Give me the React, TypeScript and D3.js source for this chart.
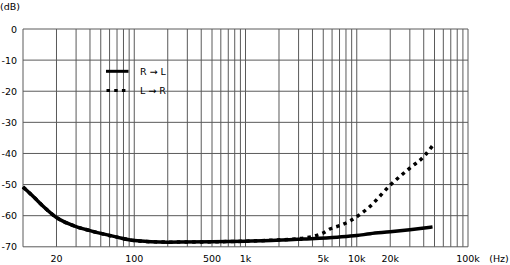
import React from "react";
import * as d3 from "d3";

const W = 510;
const H = 265;

const yTicks = [0, -10, -20, -30, -40, -50, -60, -70];
const xLabelTicks = [20, 100, 500, 1000, 5000, 10000, 20000, 100000];
const xLabelText = ["20", "100", "500", "1k", "5k", "10k", "20k", "100k"];

const freqRL = [10, 12.5, 15, 20, 30, 40, 50, 70, 100, 200, 500, 1000, 1700, 3340, 6700, 10000, 13200, 20000, 30000, 48000];
const dbRL = [-50.8, -54.0, -56.8, -60.6, -63.5, -64.8, -65.7, -66.9, -68.0, -68.5, -68.4, -68.2, -68.0, -67.5, -66.9, -66.4, -65.8, -65.2, -64.5, -63.6];

const freqLR = [10, 12.5, 15, 20, 30, 40, 50, 70, 100, 200, 500, 1000, 1700, 2500, 3340, 4110, 4890, 5810, 7150, 8790, 10800, 12800, 20100, 30000, 40000, 48000];
const dbLR = [-50.8, -54.0, -56.8, -60.6, -63.5, -64.8, -65.7, -66.9, -68.0, -68.5, -68.4, -68.2, -67.9, -67.6, -67.2, -66.6, -65.7, -64.2, -63.1, -61.6, -59.5, -57.4, -50.1, -44.7, -41.0, -37.5];

const legendLabels = ["R \u2192 L", "L \u2192 R"];

export default function App() {
  const x = d3.scaleLog().domain([10, 100000]).range([23, 468]);
  const y = d3.scaleLinear().domain([-70, 0]).range([246.8, 29]);

  const gridFreqs: number[] = [];
  for (let dec = 10; dec < 100000; dec *= 10) {
    for (let m = 1; m <= 9; m++) gridFreqs.push(dec * m);
  }
  gridFreqs.push(100000);

  const line = d3
    .line<[number, number]>()
    .x((d) => x(d[0]))
    .y((d) => y(d[1]))
    .curve(d3.curveMonotoneX);

  const rl = line(freqRL.map((f, i) => [f, dbRL[i]] as [number, number])) || "";
  const lr = line(freqLR.map((f, i) => [f, dbLR[i]] as [number, number])) || "";

  const font = "DejaVu Sans, sans-serif";
  const gridColor = "#5a5a5a";

  return (
    <svg
      width={W}
      height={H}
      style={{ position: "absolute", left: 0, top: 0, background: "#fff" }}
      fontFamily={font}
      fontSize={9.5}
    >
      <rect x={0} y={0} width={W} height={H} fill="#fff" />
      {yTicks.map((t) => (
        <line key={"h" + t} x1={x(10)} x2={x(100000)} y1={y(t)} y2={y(t)} stroke={gridColor} strokeWidth={1} />
      ))}
      {gridFreqs.map((f) => (
        <line key={"v" + f} x1={x(f)} x2={x(f)} y1={y(0)} y2={y(-70)} stroke={gridColor} strokeWidth={1} />
      ))}
      {yTicks.map((t) => (
        <text key={"yl" + t} x={17} y={y(t)} textAnchor="end" dominantBaseline="central" fill="#000">
          {String(t)}
        </text>
      ))}
      <text x={0} y={10} fill="#000">(dB)</text>
      {xLabelTicks.map((f, i) => (
        <text key={"xl" + f} x={x(f)} y={262} textAnchor="middle" fill="#000">
          {xLabelText[i]}
        </text>
      ))}
      <text x={499} y={262} textAnchor="middle" fill="#000">(Hz)</text>

      <path d={rl} fill="none" stroke="#000" strokeWidth={3.5} strokeLinejoin="round" />
      <path d={lr} fill="none" stroke="#000" strokeWidth={3.5} strokeDasharray="3.5,4.2" />

      <line x1={106} x2={128.5} y1={71.3} y2={71.3} stroke="#000" strokeWidth={3} />
      <line x1={106.5} x2={127} y1={90.5} y2={90.5} stroke="#000" strokeWidth={3} strokeDasharray="3.5,4.2" />
      <text x={140} y={71.3} dominantBaseline="central" fill="#000">{legendLabels[0]}</text>
      <text x={140} y={90.5} dominantBaseline="central" fill="#000">{legendLabels[1]}</text>
    </svg>
  );
}
